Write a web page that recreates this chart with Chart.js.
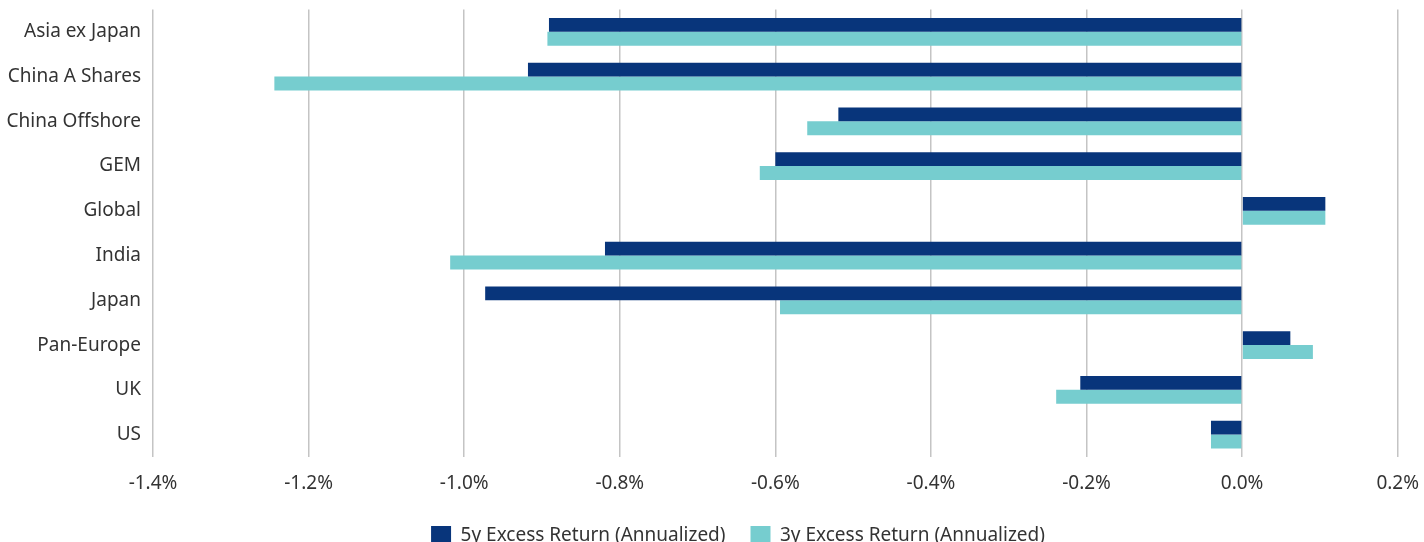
<!DOCTYPE html>
<html>
<head>
<meta charset="utf-8">
<script src="https://cdn.jsdelivr.net/npm/chart.js@4.4.0/dist/chart.umd.min.js"></script>
<style>
  html, body { margin: 0; padding: 0; background: #fff; overflow: hidden; }
  #wrap { width: 1424px; height: 542px; overflow: hidden; }
  #chart { display: block; margin-top: -14px; }
</style>
</head>
<body>
<div id="wrap"><canvas id="chart" width="1434" height="570"></canvas></div>
<script>
// categories (top to bottom)
const regions = [
  "Asia ex Japan", "China A Shares", "China Offshore", "GEM", "Global",
  "India", "Japan", "Pan-Europe", "UK", "US"
];

// excess returns, in %
const excess5y = [-0.891, -0.918, -0.519, -0.600, 0.107, -0.819, -0.973, 0.062, -0.208, -0.040];
const excess3y = [-0.893, -1.244, -0.559, -0.620, 0.107, -1.018, -0.594, 0.091, -0.239, -0.040];

const seriesNames = ["5y Excess Return (Annualized)", "3y Excess Return (Annualized)"];

const NAVY = "#08357b";
const TEAL = "#76cdcf";
const TEXT = "#333333";

Chart.defaults.font.family = "'Noto Sans', 'Open Sans', sans-serif";
Chart.defaults.color = TEXT;

// nudge the legend a bit to the right, like the original
const legendShift = {
  id: "legendShift",
  afterLayout(chart) {
    const lg = chart.legend;
    if (!lg) return;
    lg.left += 30;
    lg.right += 30;
  },
};

const canvas = document.getElementById("chart");

new Chart(canvas, {
  type: "bar",
  data: {
    labels: regions,
    datasets: [
      {
        label: seriesNames[0],
        data: excess5y,
        backgroundColor: NAVY,
        borderWidth: 0,
        categoryPercentage: 0.62,
        barPercentage: 1.0,
      },
      {
        label: seriesNames[1],
        data: excess3y,
        backgroundColor: TEAL,
        borderWidth: 0,
        categoryPercentage: 0.62,
        barPercentage: 1.0,
      },
    ],
  },
  options: {
    indexAxis: "y",
    responsive: false,
    animation: false,
    layout: {
      padding: { top: 8, right: 18, left: 0, bottom: 0 },
    },
    scales: {
      x: {
        min: -1.4,
        max: 0.2,
        ticks: {
          stepSize: 0.2,
          padding: 15,
          font: { size: 19 },
          color: TEXT,
          callback: (v) => `${Number(v).toFixed(1)}%`,
        },
        grid: {
          color: "#c4c4c4",
          lineWidth: 1.5,
          drawTicks: false,
        },
        border: { display: false },
        afterFit: (scale) => { scale.height = 44; },
      },
      y: {
        ticks: {
          padding: 12,
          font: { size: 19 },
          color: TEXT,
        },
        grid: { display: false, drawTicks: false },
        border: { display: false },
        afterFit: (scale) => { scale.width = 153; },
      },
    },
    plugins: {
      tooltip: { enabled: false },
      legend: {
        position: "bottom",
        labels: {
          boxWidth: 20,
          boxHeight: 20,
          padding: 25,
          font: { size: 19 },
          color: TEXT,
        },
      },
    },
  },
  plugins: [legendShift],
});
</script>
</body>
</html>
